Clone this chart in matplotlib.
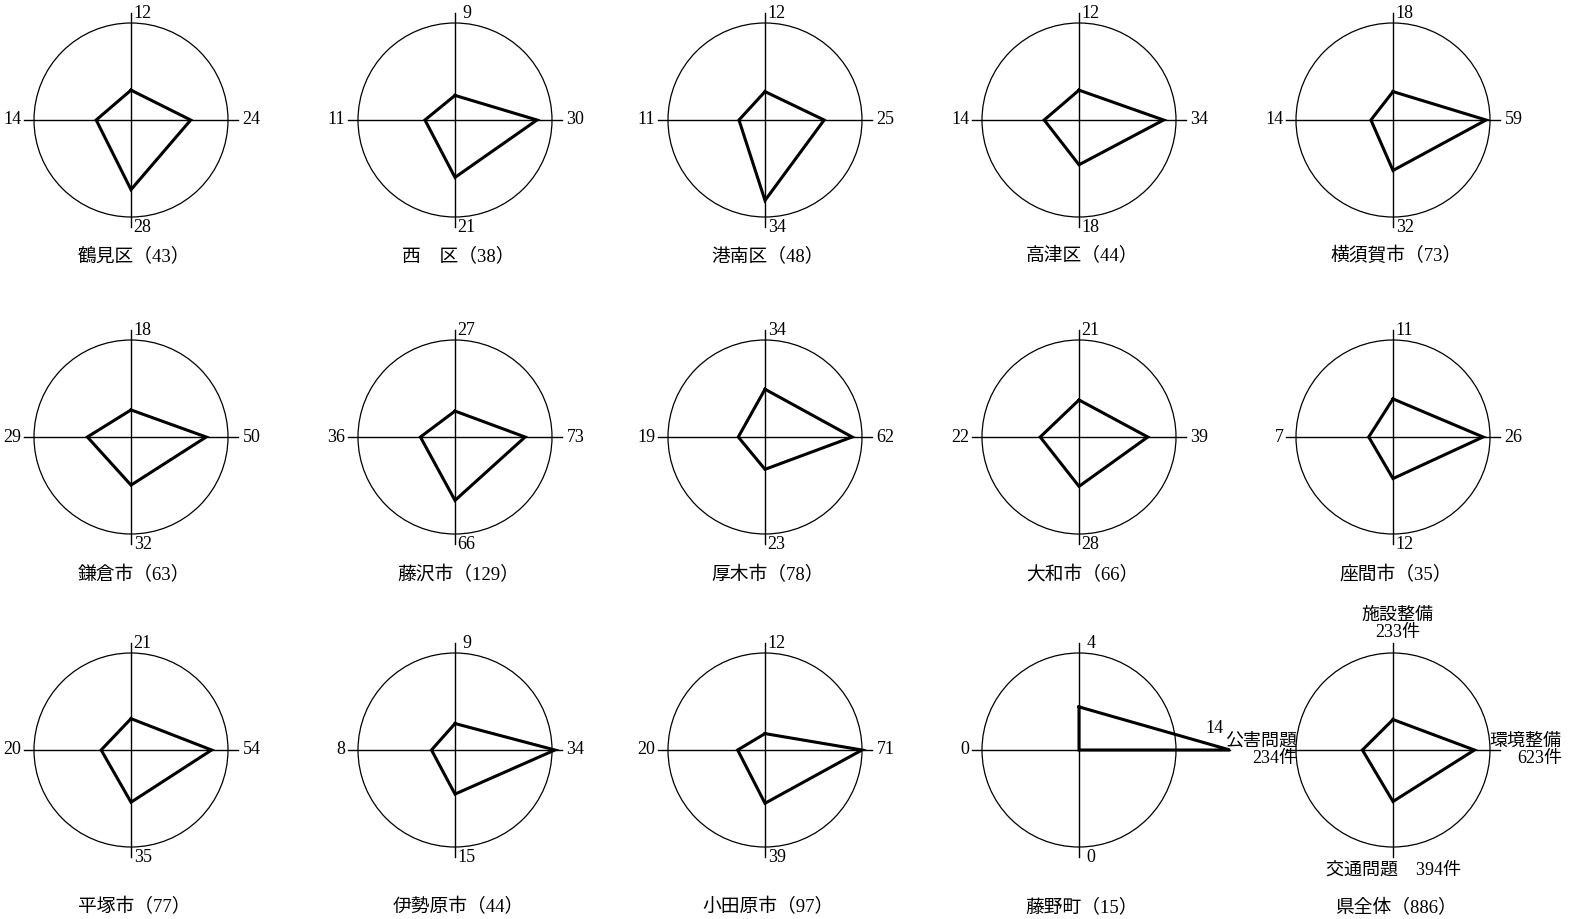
import numpy as np
import matplotlib
matplotlib.use("Agg")
import matplotlib.pyplot as plt
from matplotlib.patches import Circle

plt.rcParams['font.family'] = ['Liberation Serif', 'Noto Sans CJK JP']

# area names and total cases
names = ["鶴見区", "西　区", "港南区", "高津区", "横須賀市",
         "鎌倉市", "藤沢市", "厚木市", "大和市", "座間市",
         "平塚市", "伊勢原市", "小田原市", "藤野町", "県全体"]
totals = [43, 38, 48, 44, 73, 63, 129, 78, 66, 35, 77, 44, 97, 15, 886]

# four categories: top, right, bottom, left
categories = ["施設整備", "環境整備", "交通問題", "公害問題"]
facilities = [12, 9, 12, 12, 18, 18, 27, 34, 21, 11, 21, 9, 12, 4, 233]
environment = [24, 30, 25, 34, 59, 50, 73, 62, 39, 26, 54, 34, 71, 14, 623]
traffic = [28, 21, 34, 18, 32, 32, 66, 23, 28, 12, 35, 15, 39, 0, 394]
pollution = [14, 11, 11, 14, 14, 29, 36, 19, 22, 7, 20, 8, 20, 0, 234]

# circle = 50% of all answers in the area
circle_share = 0.5

W, H = 1569, 919
R = 97.0          # circle radius in px
SPAN = 1.75       # axes half-width in circle radii
col_x = [131, 455, 765, 1079, 1393]
row_y = [120, 437, 750]
title_off = [1.40, 1.42, 1.62]

fig = plt.figure(figsize=(W / 100, H / 100), dpi=100)
fig.patch.set_facecolor("white")

for i, name in enumerate(names):
    row, col = divmod(i, 5)
    cx, cy = col_x[col], row_y[row]
    half = SPAN * R
    ax = fig.add_axes([(cx - half) / W, (H - cy - half) / H, 2 * half / W, 2 * half / H])
    ax.set_xlim(-SPAN, SPAN)
    ax.set_ylim(-SPAN, SPAN)
    ax.set_aspect("equal")
    ax.axis("off")

    vals = [facilities[i], environment[i], traffic[i], pollution[i]]
    s = sum(vals)
    rad = [v / s / circle_share for v in vals]
    # directions: top, right, bottom, left
    dx = [0, 1, 0, -1]
    dy = [1, 0, -1, 0]
    px = [r * a for r, a in zip(rad, dx)]
    py = [r * b for r, b in zip(rad, dy)]

    ax.add_patch(Circle((0, 0), 1.0, fill=False, lw=0.9, color="black"))
    ext = [max(1.1, r) for r in rad]
    ax.plot([0, 0], [-ext[2], ext[0]], color="black", lw=1.0)
    ax.plot([-ext[3], ext[1]], [0, 0], color="black", lw=1.0)
    ax.plot(px + px[:1], py + py[:1], color="black", lw=2.2, solid_joinstyle="miter")

    fs = 13
    if i == len(names) - 1:
        ax.text(0.05, 1.30, categories[0] + "\n" + f"{vals[0]}件", ha="center", va="center",
                fontsize=fs, linespacing=1.0)
        ax.text(1.74, 0.0, categories[1] + "\n" + f"{vals[1]}件", ha="right", va="center",
                fontsize=fs, linespacing=1.0)
        ax.text(0.0, -1.24, categories[2] + "　" + f"{vals[2]}件", ha="center", va="center",
                fontsize=fs)
        ax.text(-0.99, 0.0, categories[3] + "\n" + f"{vals[3]}件", ha="right", va="center",
                fontsize=fs, linespacing=1.0)
    else:
        ax.text(0.12, 1.10, str(vals[0]), ha="center", va="center", fontsize=fs)
        if rad[1] > 1.15:
            # value sits above the end of a long spoke
            ax.text(rad[1] - 0.16, 0.22, str(vals[1]), ha="center", va="center", fontsize=fs)
        else:
            ax.text(1.15, 0.0, str(vals[1]), ha="left", va="center", fontsize=fs)
        ax.text(0.12, -1.11, str(vals[2]), ha="center", va="center", fontsize=fs)
        ax.text(-1.13, 0.0, str(vals[3]), ha="right", va="center", fontsize=fs)

    ax.text(0.03, -title_off[row], f"{name}（{totals[i]}）", ha="center", va="center",
            fontsize=13.5, clip_on=False)

fig.savefig("out.png", dpi=100, facecolor="white")
